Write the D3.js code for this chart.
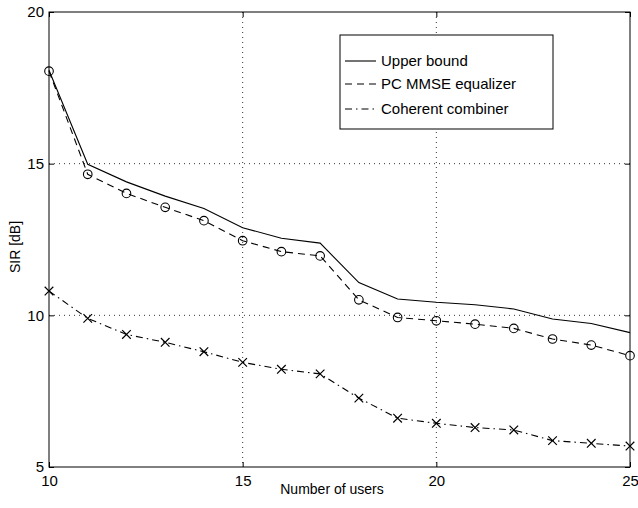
<!DOCTYPE html>
<html><head><meta charset="utf-8">
<script src="https://cdn.jsdelivr.net/npm/d3@7"></script>
<style>body{margin:0;background:#fff}svg{display:block}text{font-family:"Liberation Sans",Arial,sans-serif;fill:#000}</style>
</head><body><svg id="c" width="638" height="508"></svg>
<script>
const users = [10,11,12,13,14,15,16,17,18,19,20,21,22,23,24,25];
const upperBound = [18.08,14.98,14.40,13.93,13.52,12.89,12.54,12.38,11.08,10.54,10.43,10.35,10.21,9.88,9.73,9.43];
const pcMmse = [18.05,14.65,14.02,13.56,13.12,12.46,12.10,11.96,10.51,9.93,9.82,9.71,9.57,9.22,9.02,8.67];
const coherent = [10.80,9.90,9.37,9.11,8.80,8.45,8.22,8.07,7.27,6.61,6.44,6.30,6.22,5.87,5.78,5.69];
const xTicks = [10,15,20,25];
const yTicks = [5,10,15,20];
const legendLabels = ["Upper bound","PC MMSE equalizer","Coherent combiner"];

const svg = d3.select("#c");
const L=49,R=630,T=12,B=467;
const x = d3.scaleLinear().domain([10,25]).range([L,R]);
const y = d3.scaleLinear().domain([5,20]).range([B,T]);

// grid
const g = svg.append("g");
xTicks.filter(t=>t>10&&t<25).forEach(t=>g.append("line").attr("x1",x(t)).attr("x2",x(t)).attr("y1",T).attr("y2",B)
  .attr("stroke","#000").attr("stroke-width",0.8).attr("stroke-dasharray","1,4"));
yTicks.filter(t=>t>5&&t<20).forEach(t=>g.append("line").attr("x1",L).attr("x2",R).attr("y1",y(t)).attr("y2",y(t))
  .attr("stroke","#000").attr("stroke-width",0.8).attr("stroke-dasharray","1,4"));

// axes
const ax = svg.append("g").attr("transform",`translate(0,${B})`)
  .call(d3.axisBottom(x).tickValues(xTicks).tickSize(-5).tickPadding(8));
const ay = svg.append("g").attr("transform",`translate(${L},0)`)
  .call(d3.axisLeft(y).tickValues(yTicks).tickSize(-5).tickPadding(5));
[ax,ay].forEach(a=>{a.select(".domain").remove();a.selectAll("text").style("font-size","15px").attr("font-family",null);a.selectAll("line").attr("stroke","#000");});
svg.append("g").attr("transform",`translate(0,${T})`).call(d3.axisTop(x).tickValues(xTicks).tickSize(-5).tickFormat(""))
  .call(a=>a.select(".domain").remove());
svg.append("g").attr("transform",`translate(${R},0)`).call(d3.axisRight(y).tickValues(yTicks).tickSize(-5).tickFormat(""))
  .call(a=>a.select(".domain").remove());
svg.append("rect").attr("x",L).attr("y",T).attr("width",R-L).attr("height",B-T).attr("fill","none").attr("stroke","#000").attr("stroke-width",1);

svg.append("text").attr("x",332).attr("y",494).attr("text-anchor","middle").style("font-size","14px").text("Number of users");
svg.append("text").attr("transform","translate(20,247) rotate(-90)").attr("text-anchor","middle").style("font-size","14px").text("SIR [dB]");

const line = d3.line().x((d,i)=>x(users[i])).y(d=>y(d));
const series = [
  {v:upperBound,dash:null,m:null},
  {v:pcMmse,dash:"7,5",m:"o"},
  {v:coherent,dash:"7,4,1.5,4",m:"x"}
];
series.forEach(s=>{
  svg.append("path").datum(s.v).attr("d",line).attr("fill","none").attr("stroke","#000").attr("stroke-width",1.1)
    .attr("stroke-dasharray",s.dash);
  if(s.m==="o"){
    svg.append("g").selectAll("circle").data(s.v).join("circle").attr("cx",(d,i)=>x(users[i])).attr("cy",d=>y(d))
      .attr("r",4.3).attr("fill","none").attr("stroke","#000").attr("stroke-width",1.1);
  } else if(s.m==="x"){
    const k=4.3;
    svg.append("g").selectAll("path").data(s.v).join("path")
      .attr("d",(d,i)=>{const cx=x(users[i]),cy=y(d);return `M${cx-k},${cy-k}L${cx+k},${cy+k}M${cx-k},${cy+k}L${cx+k},${cy-k}`;})
      .attr("stroke","#000").attr("stroke-width",1.2);
  }
});

// legend
const lg = svg.append("g");
lg.append("rect").attr("x",340).attr("y",35).attr("width",213).attr("height",94).attr("fill","#fff").attr("stroke","#000").attr("stroke-width",1);
const rows=[61,84,109];
legendLabels.forEach((t,i)=>{
  lg.append("line").attr("x1",345).attr("x2",376).attr("y1",rows[i]).attr("y2",rows[i]).attr("stroke","#000").attr("stroke-width",1.1)
    .attr("stroke-dasharray",series[i].dash);
  lg.append("text").attr("x",381).attr("y",rows[i]+5).style("font-size","15px").text(t);
});
</script></body></html>
